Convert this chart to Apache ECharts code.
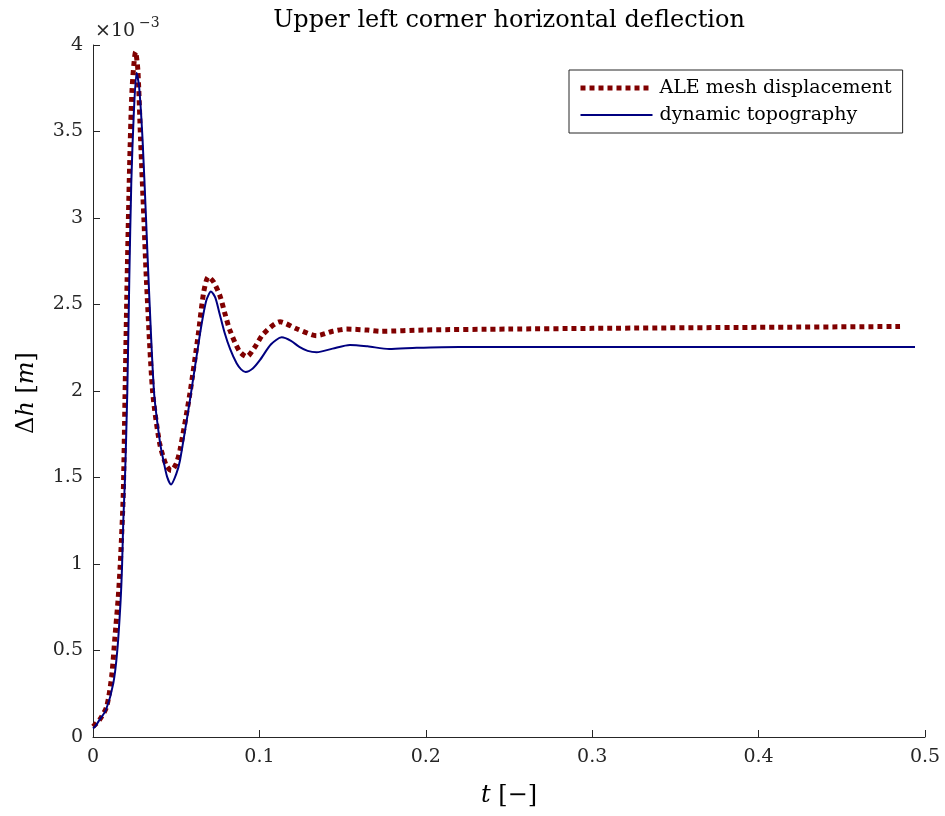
<!DOCTYPE html>
<html>
<head>
<meta charset="utf-8">
<script src="https://cdn.jsdelivr.net/npm/echarts@6/dist/echarts.min.js"></script>
<style>html,body{margin:0;padding:0;background:#fff}#c{width:945px;height:816px}</style>
</head>
<body>
<div id="c"></div>
<script>
// Time samples and values (in units of 1e-3 m)
const tBlue = [0, 0.0012, 0.004, 0.0078, 0.0122, 0.0146, 0.0166, 0.0175, 0.0182, 0.0192, 0.0206, 0.0218, 0.0230, 0.0245, 0.0262, 0.0277, 0.0298, 0.0319, 0.0334, 0.0367, 0.0403, 0.0423, 0.0445, 0.0469, 0.0500, 0.0523, 0.0583, 0.0643, 0.0680, 0.0709, 0.0735, 0.0760, 0.0790, 0.0825, 0.0863, 0.0890, 0.0917, 0.0960, 0.1004, 0.1070, 0.1134, 0.1190, 0.1240, 0.1290, 0.1344, 0.1440, 0.1544, 0.1650, 0.1780, 0.1945, 0.22, 0.30, 0.40, 0.494];
const vBlue = [0.05, 0.06, 0.10, 0.156, 0.31, 0.50, 0.79, 1.0, 1.25, 1.49, 1.99, 2.64, 3.20, 3.60, 3.84, 3.76, 3.45, 2.99, 2.64, 1.99, 1.70, 1.60, 1.505, 1.46, 1.52, 1.60, 1.95, 2.33, 2.52, 2.575, 2.54, 2.45, 2.34, 2.24, 2.16, 2.125, 2.11, 2.13, 2.18, 2.27, 2.31, 2.29, 2.255, 2.232, 2.224, 2.245, 2.266, 2.258, 2.243, 2.25, 2.255, 2.254, 2.254, 2.254];

const tRed = [0, 0.004, 0.0082, 0.0112, 0.0132, 0.0152, 0.0166, 0.0182, 0.0192, 0.0205, 0.0220, 0.0235, 0.0256, 0.0270, 0.0286, 0.0306, 0.0321, 0.0358, 0.0400, 0.0440, 0.0470, 0.0500, 0.0523, 0.0583, 0.0633, 0.0665, 0.0693, 0.0725, 0.0763, 0.0795, 0.0823, 0.0880, 0.0924, 0.0970, 0.1024, 0.1124, 0.1224, 0.1344, 0.1440, 0.1525, 0.1650, 0.1725, 0.20, 0.25, 0.30, 0.40, 0.485];
const vRed = [0.06, 0.10, 0.175, 0.35, 0.58, 0.81, 1.04, 1.41, 1.95, 2.64, 3.30, 3.75, 3.96, 3.85, 3.45, 2.99, 2.64, 2.0, 1.70, 1.57, 1.54, 1.58, 1.66, 1.99, 2.33, 2.57, 2.66, 2.63, 2.55, 2.44, 2.35, 2.23, 2.198, 2.25, 2.33, 2.40, 2.36, 2.32, 2.345, 2.358, 2.352, 2.345, 2.353, 2.358, 2.362, 2.368, 2.373];

const seriesNames = ['ALE mesh displacement', 'dynamic topography'];
const xTickLabels = ['0', '0.1', '0.2', '0.3', '0.4', '0.5'];
const yTickLabels = ['0', '0.5', '1', '1.5', '2', '2.5', '3', '3.5', '4'];
const titleText = 'Upper left corner horizontal deflection';

const FONT = 'DejaVu Serif';
const INK = '#262626';
const RED = '#800000';
const BLUE = '#000080';

const chart = echarts.init(document.getElementById('c'), null, {renderer: 'canvas'});
const option = {
  backgroundColor: '#fff',
  animation: false,
  grid: {left: 93, right: 20, top: 45, bottom: 79, containLabel: false},
  legend: {
    orient: 'vertical',
    left: 569, top: 70,
    itemWidth: 72, itemHeight: 14, itemGap: 7,
    padding: [8, 11, 8, 9],
    borderColor: INK, borderWidth: 1, borderRadius: 0,
    backgroundColor: '#fff',
    itemStyle: {opacity: 0},
    textStyle: {fontFamily: FONT, fontSize: 19, lineHeight: 20, color: '#000', padding: [0, 0, 0, 2]},
    data: [
      {name: seriesNames[0], lineStyle: {color: RED, width: 5, type: [5, 4], cap: 'butt'}},
      {name: seriesNames[1], lineStyle: {color: BLUE, width: 2}}
    ]
  },
  xAxis: {
    type: 'value', min: 0, max: 0.5, interval: 0.1,
    axisLine: {show: true, lineStyle: {color: INK, width: 1}},
    axisTick: {show: true, inside: true, length: 7, lineStyle: {color: INK}},
    axisLabel: {fontFamily: FONT, fontSize: 19, color: INK, margin: 11,
      formatter: (v) => xTickLabels[Math.round(v * 10)]},
    splitLine: {show: false}
  },
  yAxis: {
    type: 'value', min: 0, max: 4, interval: 0.5,
    axisLine: {show: true, lineStyle: {color: INK, width: 1}},
    axisTick: {show: true, inside: true, length: 7, lineStyle: {color: INK}},
    axisLabel: {fontFamily: FONT, fontSize: 19, color: INK, margin: 10,
      formatter: (v) => yTickLabels[Math.round(v * 2)]},
    splitLine: {show: false}
  },
  series: [
    {
      name: seriesNames[0], type: 'line', symbol: 'none', smooth: 0.25,
      data: tRed.map((t, i) => [t, vRed[i]]),
      lineStyle: {color: RED, width: 5, type: [5, 4], cap: 'butt'},
      itemStyle: {color: RED}, z: 2
    },
    {
      name: seriesNames[1], type: 'line', symbol: 'none', smooth: 0.25,
      data: tBlue.map((t, i) => [t, vBlue[i]]),
      lineStyle: {color: BLUE, width: 2},
      itemStyle: {color: BLUE}, z: 3
    }
  ],
  graphic: [
    {type: 'text', x: 509, y: 21, style: {text: titleText, font: '24px "' + FONT + '"', fill: '#000', align: 'center', verticalAlign: 'middle'}},
    {type: 'text', x: 95, y: 31, style: {text: '×10', font: '19px "' + FONT + '"', fill: INK, align: 'left', verticalAlign: 'middle'}},
    {type: 'text', x: 139, y: 23, style: {text: '−3', font: '14px "' + FONT + '"', fill: INK, align: 'left', verticalAlign: 'middle'}},
    {type: 'text', x: 509, y: 796, style: {
      text: '{i|t}{n| [−]}', fill: '#000', align: 'center', verticalAlign: 'middle',
      rich: {i: {fontFamily: FONT, fontSize: 24, fontStyle: 'italic'}, n: {fontFamily: FONT, fontSize: 24}}}},
    {type: 'text', x: 27, y: 393, rotation: Math.PI / 2, style: {
      text: '{n|Δ}{i|h}{n| [}{i|m}{n|]}', fill: '#000', align: 'center', verticalAlign: 'middle',
      rich: {i: {fontFamily: FONT, fontSize: 24, fontStyle: 'italic'}, n: {fontFamily: FONT, fontSize: 24}}}}
  ]
};
chart.setOption(option);
</script>
</body>
</html>
